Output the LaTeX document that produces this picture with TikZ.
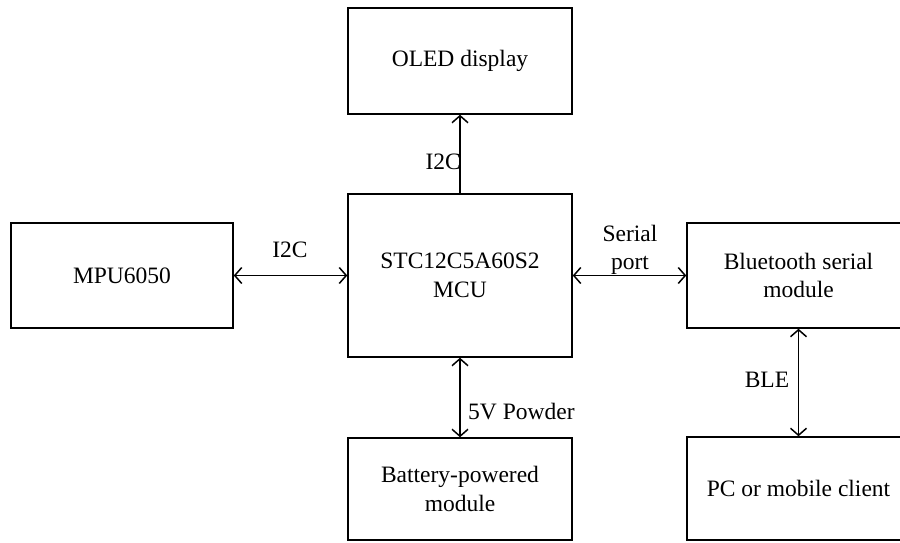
\documentclass[tikz,border=0pt]{standalone}
\usepackage{fontspec}
\setmainfont{Liberation Serif}
\usetikzlibrary{arrows.meta}
\begin{document}
\begin{tikzpicture}[x=1pt,y=1pt,
  blk/.style={draw, line width=1.5pt, rectangle, inner sep=0pt, align=center,
    font=\fontsize{23.5}{28.5}\selectfont},
  lbl/.style={inner sep=0pt, align=center, font=\fontsize{23.5}{27.5}\selectfont},
  link/.style={line width=1.5pt, {Straight Barb[length=7pt,width=16pt,line width=1.5pt]}-{Straight Barb[length=7pt,width=16pt,line width=1.5pt]}},
  onelink/.style={line width=1.5pt, -{Straight Barb[length=7pt,width=16pt,line width=1.5pt]}}]
\useasboundingbox (0,0) rectangle (900,-543);
\node[blk, minimum width=224pt, minimum height=106pt] (oled) at (460,-61) {OLED display};
\node[blk, minimum width=224pt, minimum height=163pt] (mcu) at (460,-275.5) {STC12C5A60S2\\MCU};
\node[blk, minimum width=222pt, minimum height=105pt] (mpu) at (122,-275.5) {MPU6050};
\node[blk, minimum width=223pt, minimum height=105pt] (bt) at (798.5,-275.5) {Bluetooth serial\\module};
\node[blk, minimum width=224pt, minimum height=102pt] (bat) at (460,-489) {Battery-powered\\module};
\node[blk, minimum width=223pt, minimum height=103pt] (pc) at (798.5,-488.5) {PC or mobile client};
\draw[onelink] (mcu.north) -- (oled.south);
\draw[link] (mpu.east) -- (mcu.west);
\draw[link] (mcu.east) -- (bt.west);
\draw[link] (mcu.south) -- (bat.north);
\draw[link] (bt.south) -- (pc.north);
\node[lbl, anchor=east] (l1) at (461,-162) {I2C};
\node[lbl] (l2) at (290,-250) {I2C};
\node[lbl] (l3) at (630,-250) {Serial\\port};
\node[lbl, anchor=west] (l4) at (468,-412) {5V Powder};
\node[lbl] (l5) at (767,-380) {BLE};
\end{tikzpicture}
\end{document}
